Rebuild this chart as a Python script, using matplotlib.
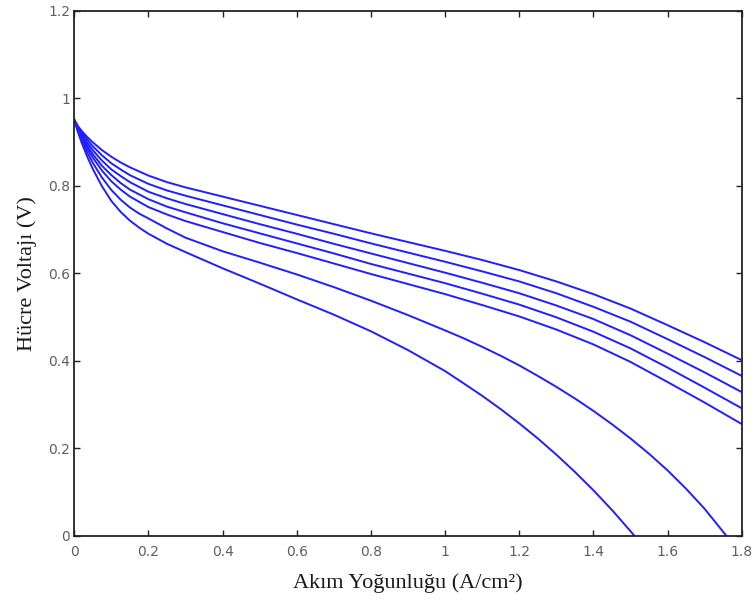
import matplotlib
matplotlib.use("Agg")
import matplotlib.pyplot as plt

# current density (A/cm2) for the upper five curves
akim = [0, 0.01, 0.02, 0.035, 0.05, 0.075, 0.1, 0.125, 0.15, 0.2, 0.25, 0.3,
        0.4, 0.5, 0.6, 0.7, 0.8, 0.9, 1.0, 1.1, 1.2, 1.3, 1.4, 1.5, 1.6, 1.7, 1.8]

# cell voltage curves (V), top to bottom
v1 = [0.95, 0.936, 0.925, 0.911, 0.899, 0.881, 0.866, 0.853, 0.842, 0.823, 0.808, 0.796,
      0.775, 0.754, 0.733, 0.712, 0.691, 0.671, 0.651, 0.630, 0.607, 0.581, 0.552,
      0.519, 0.481, 0.442, 0.401]
v2 = [0.95, 0.934, 0.921, 0.905, 0.890, 0.869, 0.851, 0.837, 0.824, 0.804, 0.789, 0.777,
      0.755, 0.733, 0.711, 0.690, 0.668, 0.647, 0.626, 0.604, 0.581, 0.554, 0.523,
      0.489, 0.449, 0.408, 0.365]
v3 = [0.95, 0.932, 0.917, 0.898, 0.881, 0.857, 0.837, 0.822, 0.808, 0.786, 0.771, 0.758,
      0.735, 0.712, 0.690, 0.667, 0.645, 0.623, 0.601, 0.578, 0.554, 0.526, 0.495,
      0.458, 0.416, 0.373, 0.328]
v4 = [0.95, 0.930, 0.913, 0.891, 0.872, 0.845, 0.824, 0.806, 0.791, 0.769, 0.752, 0.739,
      0.714, 0.691, 0.668, 0.645, 0.621, 0.599, 0.577, 0.553, 0.528, 0.499, 0.466,
      0.428, 0.384, 0.338, 0.291]
v5 = [0.95, 0.928, 0.909, 0.884, 0.864, 0.834, 0.810, 0.791, 0.775, 0.751, 0.734, 0.719,
      0.694, 0.669, 0.646, 0.622, 0.598, 0.575, 0.552, 0.527, 0.501, 0.471, 0.437,
      0.397, 0.351, 0.304, 0.255]

# the two lowest curves drop to zero before 1.8
akim6 = [0, 0.01, 0.02, 0.035, 0.05, 0.075, 0.1, 0.125, 0.15, 0.175, 0.2, 0.25, 0.3,
         0.4, 0.5, 0.6, 0.7, 0.8, 0.9, 1.0, 1.05, 1.1, 1.15, 1.2, 1.25, 1.3, 1.35,
         1.4, 1.45, 1.5, 1.55, 1.6, 1.65, 1.7, 1.758]
v6 = [0.95, 0.925, 0.904, 0.876, 0.852, 0.818, 0.790, 0.768, 0.750, 0.736, 0.725, 0.702,
      0.681, 0.650, 0.624, 0.597, 0.568, 0.537, 0.504, 0.469, 0.451, 0.4315, 0.411,
      0.389, 0.365, 0.340, 0.3135, 0.285, 0.2545, 0.222, 0.187, 0.149, 0.107, 0.061, 0.0]

akim7 = [0, 0.01, 0.02, 0.035, 0.05, 0.075, 0.1, 0.125, 0.15, 0.175, 0.2, 0.25, 0.3,
         0.4, 0.5, 0.6, 0.7, 0.8, 0.9, 1.0, 1.05, 1.1, 1.15, 1.2, 1.25, 1.3, 1.35,
         1.4, 1.45, 1.5, 1.51]
v7 = [0.95, 0.922, 0.898, 0.866, 0.838, 0.798, 0.765, 0.740, 0.720, 0.704, 0.690, 0.667,
      0.648, 0.611, 0.576, 0.540, 0.505, 0.467, 0.424, 0.376, 0.348, 0.3195, 0.289,
      0.2565, 0.222, 0.185, 0.1455, 0.1035, 0.0585, 0.010, 0.0]

xticks = [0, 0.2, 0.4, 0.6, 0.8, 1.0, 1.2, 1.4, 1.6, 1.8]
xticklabels = ["0", "0.2", "0.4", "0.6", "0.8", "1", "1.2", "1.4", "1.6", "1.8"]
yticks = [0, 0.2, 0.4, 0.6, 0.8, 1.0, 1.2]
yticklabels = ["0", "0.2", "0.4", "0.6", "0.8", "1", "1.2"]

fig = plt.figure(figsize=(7.55, 6.08), dpi=100)
ax = fig.add_axes([0.0984, 0.1192, 0.884, 0.8632])

for v in [v1, v2, v3, v4, v5]:
    ax.plot(akim, v, color="#1f1fff", lw=1.4, solid_joinstyle="round")
ax.plot(akim6, v6, color="#1f1fff", lw=1.4, solid_joinstyle="round")
ax.plot(akim7, v7, color="#1f1fff", lw=1.4, solid_joinstyle="round")

ax.set_xlim(0, 1.8)
ax.set_ylim(0, 1.2)
ax.set_xticks(xticks)
ax.set_xticklabels(xticklabels)
ax.set_yticks(yticks)
ax.set_yticklabels(yticklabels)

ax.tick_params(axis="both", direction="in", top=True, right=True,
               length=4, width=1, color="#222222",
               labelsize=10, labelcolor="#606060")
ax.tick_params(axis="x", pad=7)
ax.tick_params(axis="y", pad=3)
for s in ax.spines.values():
    s.set_linewidth(1.3)
    s.set_color("#222222")

ax.set_xlabel("Akım Yoğunluğu (A/cm²)", family="Liberation Serif",
              fontsize=16, color="#1a1a1a", labelpad=10)
ax.set_ylabel("Hücre Voltajı (V)", family="Liberation Serif",
              fontsize=16, color="#1a1a1a", labelpad=8)

fig.savefig("out.png", dpi=100)
